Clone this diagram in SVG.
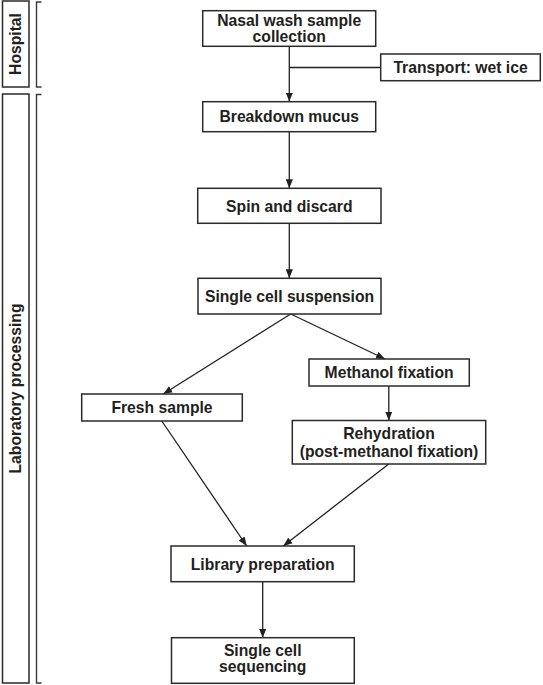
<svg xmlns="http://www.w3.org/2000/svg" width="543" height="685" viewBox="0 0 543 685">
<style>
.box{fill:#fff;stroke:#2a2a2a;stroke-width:1.5}
.t{font-family:"Liberation Sans",Arial,sans-serif;font-weight:bold;font-size:15.7px;fill:#231f20;text-anchor:middle}
.c{fill:none;stroke:#231f20;stroke-width:1.3}
.br{fill:none;stroke:#3a3a3a;stroke-width:1.4}
</style>
<defs>
<marker id="ah" viewBox="0 0 10 8" markerWidth="9" markerHeight="7.5" refX="10" refY="4" orient="auto" markerUnits="userSpaceOnUse">
<path d="M0,0 L10,4 L0,8 z" fill="#231f20"/>
</marker>
</defs>
<rect width="543" height="685" fill="#fff"/>
<g id="side-hospital">
<rect class="box" x="2.5" y="1" width="26.5" height="86"/>
<path class="br" d="M41.5,2 H36.5 V87 H41.5"/>
<text class="t" transform="translate(20.8,44) rotate(-90)">Hospital</text>
</g>
<g id="side-lab">
<rect class="box" x="2.5" y="94" width="26.5" height="589"/>
<path class="br" d="M41.5,94.5 H36.5 V683 H41.5"/>
<text class="t" transform="translate(20.8,388.5) rotate(-90)">Laboratory processing</text>
</g>
<g id="connectors">
<path class="c" d="M289.3,46.3 V101.5" marker-end="url(#ah)"/>
<path class="c" d="M289.3,67.5 H380.7"/>
<path class="c" d="M289.3,131.7 V188.3" marker-end="url(#ah)"/>
<path class="c" d="M289.3,223.3 V278.3" marker-end="url(#ah)"/>
<path class="c" d="M290.7,314 L163.3,394" marker-end="url(#ah)"/>
<path class="c" d="M290.7,314 L385,359" marker-end="url(#ah)"/>
<path class="c" d="M388.8,386 V420.5" marker-end="url(#ah)"/>
<path class="c" d="M161.8,421 L246.7,546" marker-end="url(#ah)"/>
<path class="c" d="M388.7,464 L283.3,546" marker-end="url(#ah)"/>
<path class="c" d="M262.7,581.7 V637.7" marker-end="url(#ah)"/>
</g>
<g id="nasal">
<rect class="box" x="202.7" y="10.7" width="173" height="35.6"/>
<text class="t" x="289.2" y="26">Nasal wash sample</text>
<text class="t" x="289.2" y="42.2">collection</text>
</g>
<g id="transport">
<rect class="box" x="380.7" y="54" width="159.6" height="26.7"/>
<text class="t" x="460.5" y="73">Transport: wet ice</text>
</g>
<g id="breakdown">
<rect class="box" x="202.7" y="101.7" width="173" height="30"/>
<text class="t" x="289.2" y="122">Breakdown mucus</text>
</g>
<g id="spin">
<rect class="box" x="197.7" y="188.3" width="183.3" height="35"/>
<text class="t" x="289.3" y="211.5">Spin and discard</text>
</g>
<g id="suspension">
<rect class="box" x="198" y="278.3" width="183" height="35.7"/>
<text class="t" x="289.5" y="301.8">Single cell suspension</text>
</g>
<g id="methanol">
<rect class="box" x="309" y="359" width="160.3" height="27"/>
<text class="t" x="389.1" y="378.2">Methanol fixation</text>
</g>
<g id="fresh">
<rect class="box" x="81.7" y="394" width="160.6" height="27"/>
<text class="t" x="162" y="413.2">Fresh sample</text>
</g>
<g id="rehydration">
<rect class="box" x="292.3" y="420.5" width="193.4" height="43.5"/>
<text class="t" x="389" y="439">Rehydration</text>
<text class="t" x="389" y="456.8">(post-methanol fixation)</text>
</g>
<g id="library">
<rect class="box" x="171" y="546" width="183.3" height="35.7"/>
<text class="t" x="262.7" y="569.5">Library preparation</text>
</g>
<g id="sequencing">
<rect class="box" x="171.5" y="637.7" width="182.8" height="45.6"/>
<text class="t" x="262.7" y="656">Single cell</text>
<text class="t" x="262.7" y="672.3">sequencing</text>
</g>
</svg>
